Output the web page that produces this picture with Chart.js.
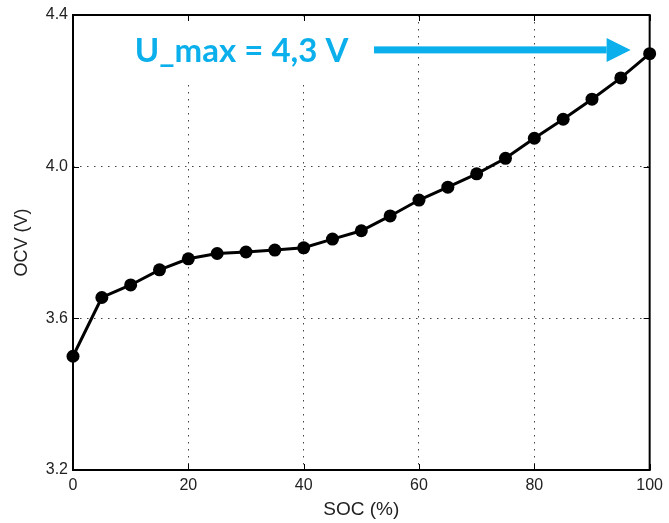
<!DOCTYPE html>
<html>
<head>
<meta charset="utf-8">
<script src="https://cdn.jsdelivr.net/npm/chart.js@4/dist/chart.umd.min.js"></script>
<style>
  html, body { margin: 0; padding: 0; background: #fff; }
  #wrap { width: 669px; height: 523px; }
</style>
</head>
<body>
<div id="wrap"><canvas id="chart"></canvas></div>
<script>
// SOC (%) vs OCV (V)
const socValues = [0, 5, 10, 15, 20, 25, 30, 35, 40, 45, 50, 55, 60, 65, 70, 75, 80, 85, 90, 95, 100];
const ocvValues = [3.500, 3.655, 3.688, 3.728, 3.757, 3.771, 3.775, 3.780, 3.786, 3.809, 3.831,
  3.870, 3.912, 3.946, 3.981, 4.022, 4.075, 4.125, 4.178, 4.234, 4.298];
const xTicks = [0, 20, 40, 60, 80, 100];
const yTicks = [3.2, 3.6, 4.0, 4.4];

// annotation, in data units
const noteText = "U_max = 4,3 V";
const notePos = { x: 10.7, y: 4.308 };
const noteEnd = 47.8;
const arrowFrom = { x: 52.2, y: 4.308 };
const arrowTo = { x: 96.7, y: 4.308 };

const labelFont = "'Liberation Sans', Arial, sans-serif";
const noteColor = "#0aafeb";

// MATLAB-ish box + inward ticks + the blue note
const framePlugin = {
  id: "frame",
  beforeDatasetsDraw(chart) {
    const { ctx, chartArea: a, scales } = chart;
    ctx.save();
    ctx.strokeStyle = "#000";
    ctx.lineWidth = 1;
    ctx.beginPath();
    for (const v of xTicks) {
      const px = Math.round(scales.x.getPixelForValue(v)) + 0.5;
      ctx.moveTo(px, a.bottom); ctx.lineTo(px, a.bottom - 6);
      ctx.moveTo(px, a.top); ctx.lineTo(px, a.top + 6);
    }
    for (const v of yTicks) {
      const py = Math.round(scales.y.getPixelForValue(v)) + 0.5;
      ctx.moveTo(a.left, py); ctx.lineTo(a.left + 6, py);
      ctx.moveTo(a.right, py); ctx.lineTo(a.right - 6, py);
    }
    ctx.stroke();
    ctx.lineWidth = 2;
    ctx.strokeRect(a.left, a.top, a.right - a.left, a.bottom - a.top);

    // annotation text on white backing, sized to span notePos..noteEnd
    const tx = scales.x.getPixelForValue(notePos.x);
    const ty = scales.y.getPixelForValue(notePos.y);
    const want = scales.x.getPixelForValue(noteEnd) - tx;
    ctx.font = "bold 32px Lato, sans-serif";
    const size = 32 * want / ctx.measureText(noteText).width;
    ctx.font = `bold ${size.toFixed(1)}px Lato, sans-serif`;
    ctx.fillStyle = "#fff";
    ctx.fillRect(tx - 12, a.top + 7, want + 24, 58);
    ctx.fillStyle = noteColor;
    ctx.textBaseline = "middle";
    ctx.textAlign = "left";
    ctx.fillText(noteText, tx, ty + 1);

    // arrow
    const x0 = scales.x.getPixelForValue(arrowFrom.x);
    const x1 = scales.x.getPixelForValue(arrowTo.x);
    const ay = scales.y.getPixelForValue(arrowTo.y);
    ctx.fillRect(x0, ay - 3.5, (x1 - 24) - x0, 7);
    ctx.beginPath();
    ctx.moveTo(x1 - 24, ay - 12);
    ctx.lineTo(x1, ay);
    ctx.lineTo(x1 - 24, ay + 12);
    ctx.closePath();
    ctx.fill();
    ctx.restore();
  },
};

const gridStyle = {
  drawTicks: false,
  color: "#444",
  lineWidth: 1,
};

new Chart(document.getElementById("chart"), {
  type: "line",
  data: {
    datasets: [
      {
        label: "OCV",
        data: socValues.map((s, i) => ({ x: s, y: ocvValues[i] })),
        borderColor: "#000",
        backgroundColor: "#000",
        borderWidth: 3,
        pointRadius: 6.5,
        pointBorderWidth: 0,
        pointBackgroundColor: "#000",
        tension: 0,
        clip: false,
      },
    ],
  },
  options: {
    responsive: true,
    maintainAspectRatio: false,
    animation: false,
    layout: { padding: { top: 15, right: 17, left: 0, bottom: 0 } },
    plugins: { legend: { display: false }, tooltip: { enabled: false } },
    scales: {
      x: {
        type: "linear",
        min: 0,
        max: 100,
        afterBuildTicks: (s) => { s.ticks = xTicks.map((v) => ({ value: v })); },
        ticks: { color: "#222", font: { family: labelFont, size: 16 }, padding: 6 },
        grid: { ...gridStyle },
        border: { display: false, dash: [1.5, 5.5] },
        title: {
          display: true,
          text: "SOC (%)",
          color: "#222",
          font: { family: labelFont, size: 19 },
          padding: { top: 0, bottom: 2 },
        },
        afterFit: (s) => { s.height = 53; },
      },
      y: {
        min: 3.2,
        max: 4.4,
        afterBuildTicks: (s) => { s.ticks = yTicks.map((v) => ({ value: v })); },
        ticks: {
          color: "#222",
          font: { family: labelFont, size: 16 },
          padding: 5,
          callback: (v) => Number(v).toFixed(1),
        },
        grid: { ...gridStyle },
        border: { display: false, dash: [1.5, 5.5] },
        title: {
          display: true,
          text: "OCV (V)",
          color: "#222",
          font: { family: labelFont, size: 18 },
          padding: { top: 11, bottom: 0 },
        },
        afterFit: (s) => { s.width = 73; },
      },
    },
  },
  plugins: [framePlugin],
});
</script>
</body>
</html>
